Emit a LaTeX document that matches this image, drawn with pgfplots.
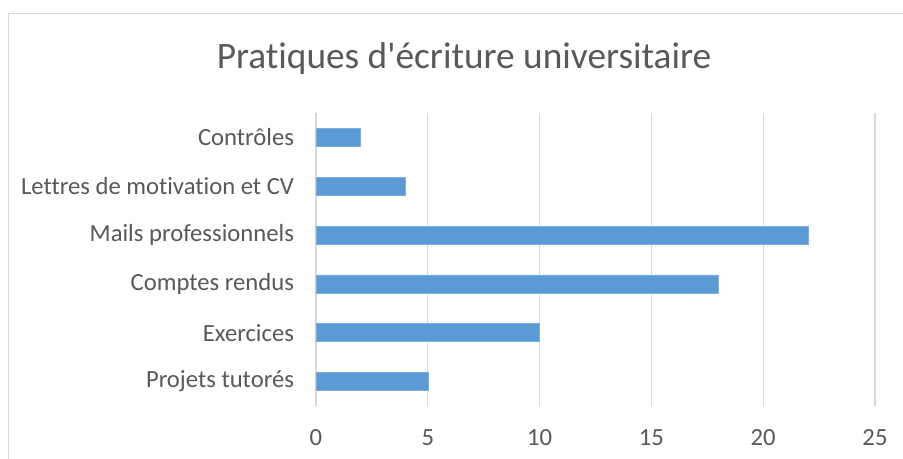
\documentclass[border=0pt]{standalone}
\usepackage{pgfplots}
\pgfplotsset{compat=1.18}
\usepackage{fontspec}
\setmainfont{Carlito}[Ligatures={TeXOff,NoCommon}]
\definecolor{barblue}{HTML}{5B9BD5}
\definecolor{gridgray}{HTML}{D9D9D9}
\definecolor{txtgray}{HTML}{595959}
\begin{document}
\begin{tikzpicture}
\useasboundingbox (0,0) rectangle (677.25pt,344.25pt);
\clip (0,0) rectangle (677.25pt,344.25pt);
\fill[white] (0,0) rectangle (677.25pt,344.25pt);
\draw[gridgray,line width=0.9pt] (6.375pt,-20pt) -- (6.375pt,334.125pt) -- (700pt,334.125pt);
\node[txtgray,font=\fontsize{28}{32}\selectfont] at (348pt,300pt) {Pratiques d'écriture universitaire};
\begin{axis}[
  at={(237pt,39.75pt)}, anchor=south west,
  scale only axis, width=419.25pt, height=219.75pt,
  xbar, bar width=13.5pt,
  xmin=0, xmax=25, ymin=-0.5, ymax=5.5,
  xtick={0,5,10,15,20,25},
  ytick={0,1,2,3,4,5},
  yticklabels={Projets tutorés,Exercices,Comptes rendus,Mails professionnels,Lettres de motivation et CV,Contrôles},
  axis line style={draw=none},
  major tick length=0pt,
  xmajorgrids, grid style={gridgray,line width=0.9pt},
  ticklabel style={txtgray,font=\fontsize{18.5}{21}\selectfont},
  /pgf/number format/assume math mode=true,
  xticklabel style={yshift=-14pt},
  yticklabel style={xshift=-13pt},
]
\addplot[fill=barblue,draw=barblue!80!white] coordinates {(5,0) (10,1) (18,2) (22,3) (4,4) (2,5)};
\end{axis}
\end{tikzpicture}
\end{document}
